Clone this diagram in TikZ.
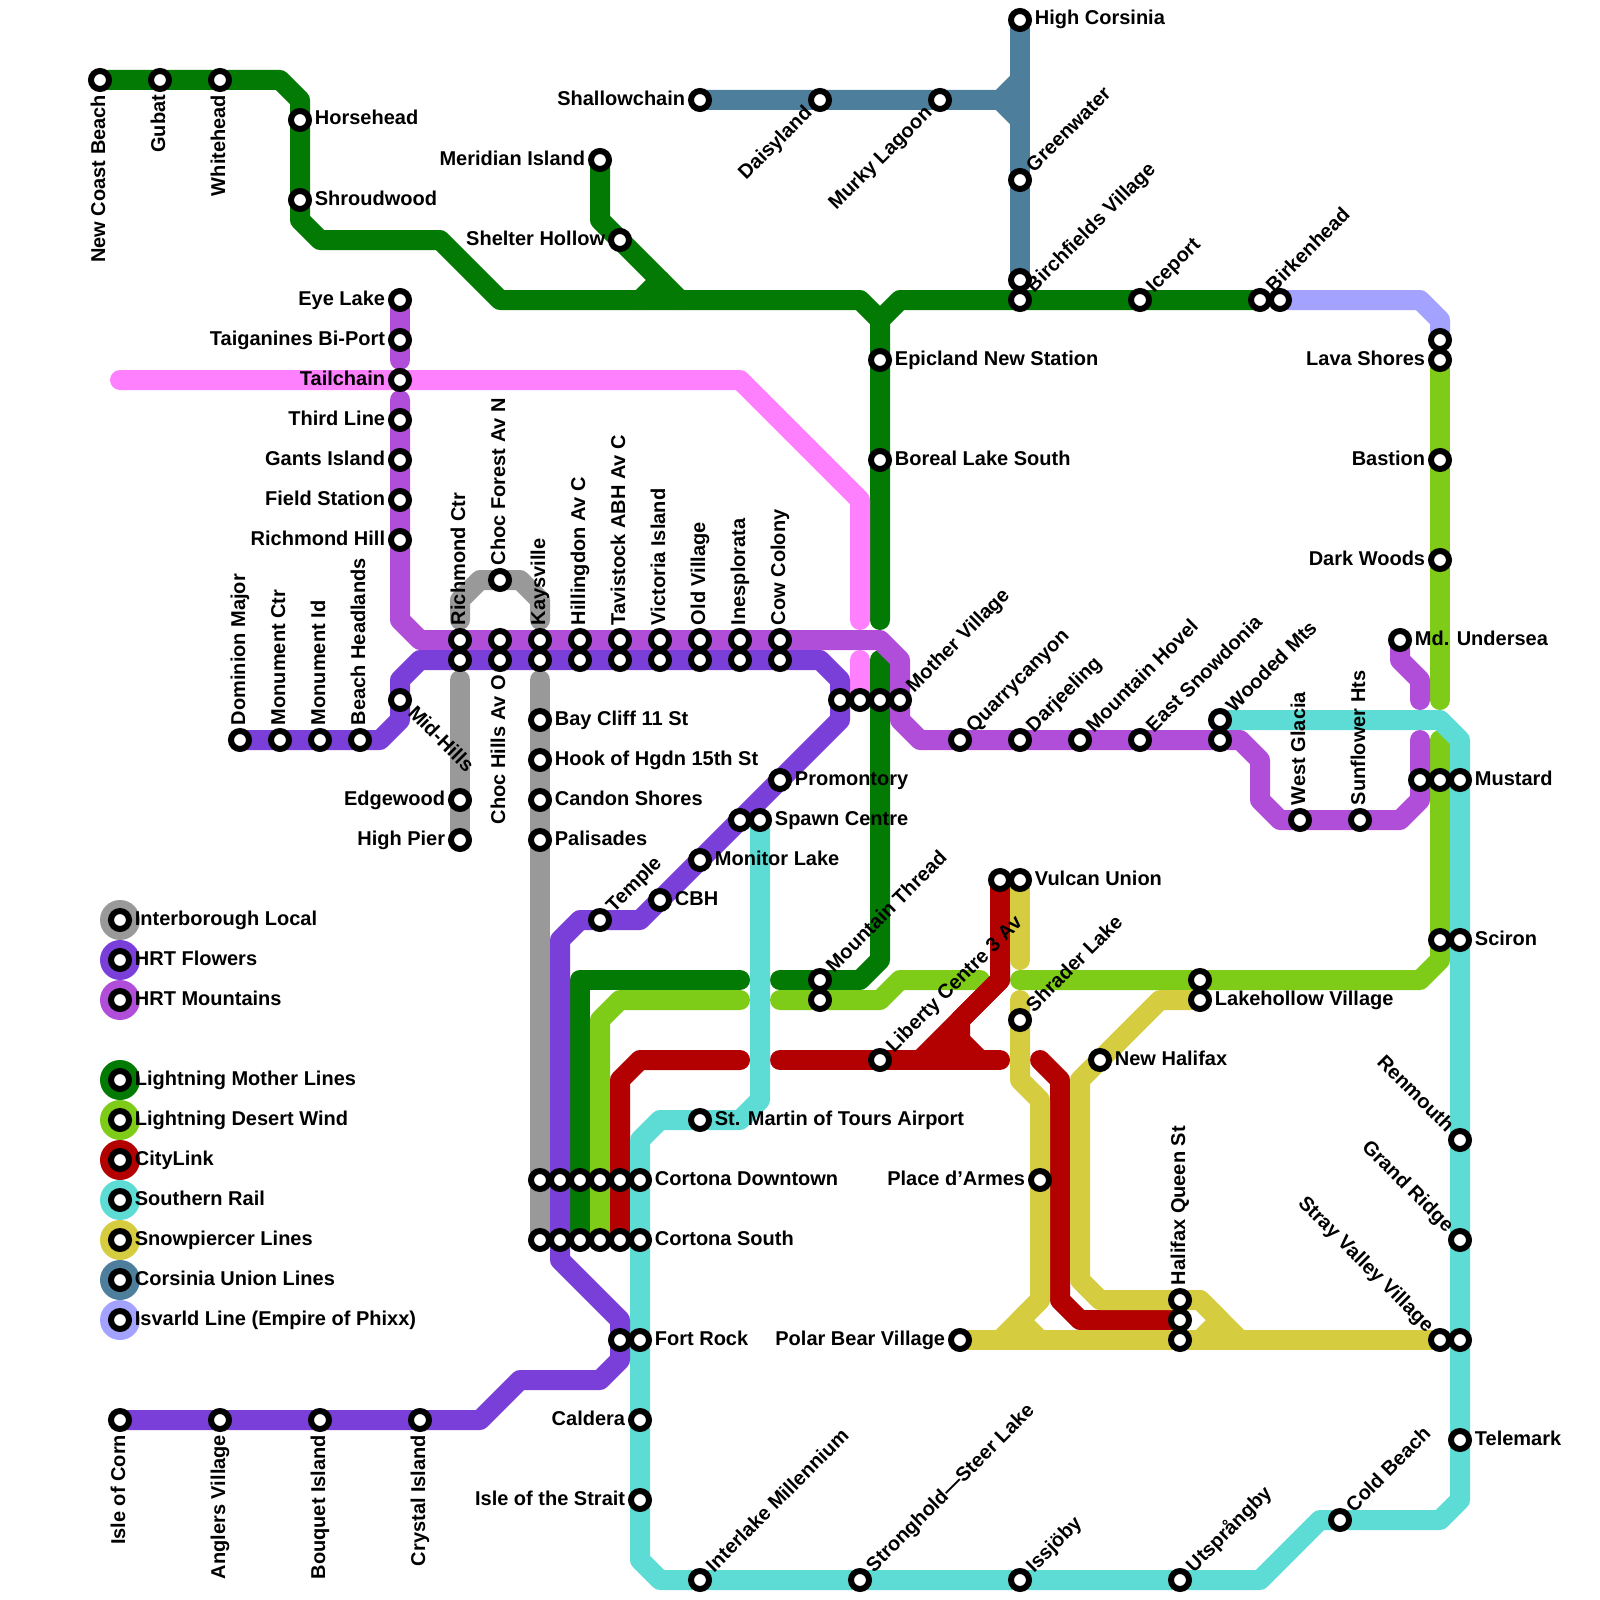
\documentclass[tikz,border=0pt]{standalone}
\usepackage{fontspec}
\setmainfont{Liberation Sans}
\definecolor{cGray}{HTML}{999999}
\definecolor{cFlowers}{HTML}{7B3FD9}
\definecolor{cMountains}{HTML}{B04DD9}
\definecolor{cMother}{HTML}{037A03}
\definecolor{cDesert}{HTML}{7ECC18}
\definecolor{cCity}{HTML}{B30000}
\definecolor{cSouthern}{HTML}{5CDCD4}
\definecolor{cSnow}{HTML}{D6CC40}
\definecolor{cCorsinia}{HTML}{4D7E9C}
\definecolor{cIsvarld}{HTML}{A3A3FF}
\definecolor{cPink}{HTML}{FF80FF}
\pgfdeclarelayer{lines}
\pgfsetlayers{lines,main}
\tikzset{
  stn/.style={circle,draw=black,fill=white,line width=3pt,minimum size=9pt,inner sep=0pt},
  lgd/.style={circle,minimum size=20pt,inner sep=0pt},
  ln/.style={line width=10pt,line cap=round,line join=round},
  lb/.style={font=\bfseries\fontsize{10}{12}\selectfont,inner sep=0pt},
  lbfwd/.style={lb,anchor=base west,xshift=7.25pt,yshift=-2.5pt},
  lbbck/.style={lb,anchor=base east,xshift=-7.25pt,yshift=-2.5pt},
  lbE/.style={lbfwd},
  lbW/.style={lbbck},
  lbN/.style={rotate=90,lbfwd},
  lbS/.style={rotate=90,lbbck},
  lbNE/.style={rotate=45,lbfwd},
  lbSW/.style={rotate=45,lbbck},
  lbSE/.style={rotate=-45,lbfwd},
  lbNW/.style={rotate=-45,lbbck}
}
\begin{document}
\begin{tikzpicture}[x=10pt,y=-10pt]
\useasboundingbox (0,0) rectangle (80,80);
% top left
\node[stn] (newcoast) at (5,4) {}; \node[lbS] (newcoastL) at (newcoast) {New Coast Beach};
\node[stn] (gubat) at (8,4) {}; \node[lbS] (gubatL) at (gubat) {Gubat};
\node[stn] (whitehead) at (11,4) {}; \node[lbS] (whiteheadL) at (whitehead) {Whitehead};
\node[stn] (horsehead) at (15,6) {}; \node[lbE] (horseheadL) at (horsehead) {Horsehead};
\node[stn] (shroudwood) at (15,10) {}; \node[lbE] (shroudwoodL) at (shroudwood) {Shroudwood};
\node[stn] (meridian) at (30,8) {}; \node[lbW] (meridianL) at (meridian) {Meridian Island};
\node[stn] (shelter) at (31,12) {}; \node[lbW] (shelterL) at (shelter) {Shelter Hollow};
% corsinia
\node[stn] (shallow) at (35,5) {}; \node[lbW] (shallowL) at (shallow) {Shallowchain};
\node[stn] (daisy) at (41,5) {}; \node[lbSW] (daisyL) at (daisy) {Daisyland};
\node[stn] (murky) at (47,5) {}; \node[lbSW] (murkyL) at (murky) {Murky Lagoon};
\node[stn] (highcors) at (51,1) {}; \node[lbE] (highcorsL) at (highcors) {High Corsinia};
\node[stn] (greenwater) at (51,9) {}; \node[lbNE] (greenwaterL) at (greenwater) {Greenwater};
\node[stn] (birchN) at (51,14) {};
\node[stn] (birchS) at (51,15) {}; \node[lbNE] (birchL) at (birchS) {Birchfields Village};
\node[stn] (iceport) at (57,15) {}; \node[lbNE] (iceportL) at (iceport) {Iceport};
\node[stn] (birkenE) at (64,15) {};
\node[stn] (birkenW) at (63,15) {}; \node[lbNE] (birkenL) at (birkenW) {Birkenhead};
\node[stn] (epicland) at (44,18) {}; \node[lbE] (epiclandL) at (epicland) {Epicland New Station};
\node[stn] (boreal) at (44,23) {}; \node[lbE] (borealL) at (boreal) {Boreal Lake South};
% east side
\node[stn] (lavaN) at (72,17) {};
\node[stn] (lava) at (72,18) {}; \node[lbW] (lavaL) at (lava) {Lava Shores};
\node[stn] (bastion) at (72,23) {}; \node[lbW] (bastionL) at (bastion) {Bastion};
\node[stn] (darkwoods) at (72,28) {}; \node[lbW] (darkwoodsL) at (darkwoods) {Dark Woods};
\node[stn] (undersea) at (70,32) {}; \node[lbE] (underseaL) at (undersea) {Md. Undersea};
\node[stn] (mustardW) at (71,39) {};
\node[stn] (mustardC) at (72,39) {};
\node[stn] (mustard) at (73,39) {}; \node[lbE] (mustardL) at (mustard) {Mustard};
\node[stn] (scironW) at (72,47) {};
\node[stn] (sciron) at (73,47) {}; \node[lbE] (scironL) at (sciron) {Sciron};
\node[stn] (renmouth) at (73,57) {}; \node[lbNW] (renmouthL) at (renmouth) {Renmouth};
\node[stn] (grandridge) at (73,62) {}; \node[lbNW] (grandridgeL) at (grandridge) {Grand Ridge};
\node[stn] (strayE) at (73,67) {};
\node[stn] (stray) at (72,67) {}; \node[lbNW] (strayL) at (stray) {Stray Valley Village};
\node[stn] (telemark) at (73,72) {}; \node[lbE] (telemarkL) at (telemark) {Telemark};
\node[stn] (coldbeach) at (67,76) {}; \node[lbNE] (coldbeachL) at (coldbeach) {Cold Beach};
% south edge
\node[stn] (utspr) at (59,79) {}; \node[lbNE] (utsprL) at (utspr) {Utsprångby};
\node[stn] (issjo) at (51,79) {}; \node[lbNE] (issjoL) at (issjo) {Issjöby};
\node[stn] (stronghold) at (43,79) {}; \node[lbNE] (strongholdL) at (stronghold) {Stronghold—Steer Lake};
\node[stn] (interlake) at (35,79) {}; \node[lbNE] (interlakeL) at (interlake) {Interlake Millennium};
\node[stn] (strait) at (32,75) {}; \node[lbW] (straitL) at (strait) {Isle of the Strait};
\node[stn] (caldera) at (32,71) {}; \node[lbW] (calderaL) at (caldera) {Caldera};
\node[stn] (fortW) at (31,67) {};
\node[stn] (fort) at (32,67) {}; \node[lbE] (fortL) at (fort) {Fort Rock};
\node[stn] (corn) at (6,71) {}; \node[lbS] (cornL) at (corn) {Isle of Corn};
\node[stn] (anglers) at (11,71) {}; \node[lbS] (anglersL) at (anglers) {Anglers Village};
\node[stn] (bouquet) at (16,71) {}; \node[lbS] (bouquetL) at (bouquet) {Bouquet Island};
\node[stn] (crystal) at (21,71) {}; \node[lbS] (crystalL) at (crystal) {Crystal Island};
% cortona rows
\node[stn] (downA) at (27,59) {};
\node[stn] (downB) at (28,59) {};
\node[stn] (downC) at (29,59) {};
\node[stn] (downD) at (30,59) {};
\node[stn] (downE) at (31,59) {};
\node[stn] (down) at (32,59) {}; \node[lbE] (downL) at (down) {Cortona Downtown};
\node[stn] (southA) at (27,62) {};
\node[stn] (southB) at (28,62) {};
\node[stn] (southC) at (29,62) {};
\node[stn] (southD) at (30,62) {};
\node[stn] (southE) at (31,62) {};
\node[stn] (south) at (32,62) {}; \node[lbE] (southL) at (south) {Cortona South};
\node[stn] (martin) at (35,56) {}; \node[lbE] (martinL) at (martin) {St. Martin of Tours Airport};
% hrt west
\node[stn] (eyelake) at (20,15) {}; \node[lbW] (eyelakeL) at (eyelake) {Eye Lake};
\node[stn] (taiga) at (20,17) {}; \node[lbW] (taigaL) at (taiga) {Taiganines Bi-Port};
\node[stn] (tailchain) at (20,19) {}; \node[lbW] (tailchainL) at (tailchain) {Tailchain};
\node[stn] (thirdline) at (20,21) {}; \node[lbW] (thirdlineL) at (thirdline) {Third Line};
\node[stn] (gants) at (20,23) {}; \node[lbW] (gantsL) at (gants) {Gants Island};
\node[stn] (field) at (20,25) {}; \node[lbW] (fieldL) at (field) {Field Station};
\node[stn] (richhill) at (20,27) {}; \node[lbW] (richhillL) at (richhill) {Richmond Hill};
\node[stn] (midhills) at (20,35) {}; \node[lbSE] (midhillsL) at (midhills) {Mid-Hills};
\node[stn] (dominion) at (12,37) {}; \node[lbN] (dominionL) at (dominion) {Dominion Major};
\node[stn] (monctr) at (14,37) {}; \node[lbN] (monctrL) at (monctr) {Monument Ctr};
\node[stn] (monid) at (16,37) {}; \node[lbN] (monidL) at (monid) {Monument Id};
\node[stn] (beach) at (18,37) {}; \node[lbN] (beachL) at (beach) {Beach Headlands};
\node[stn] (edgewood) at (23,40) {}; \node[lbW] (edgewoodL) at (edgewood) {Edgewood};
\node[stn] (highpier) at (23,42) {}; \node[lbW] (highpierL) at (highpier) {High Pier};
% double row
\node[stn] (richctrS) at (23,33) {};
\node[stn] (richctr) at (23,32) {}; \node[lbN] (richctrL) at (richctr) {Richmond Ctr};
\node[stn] (chocN) at (25,29) {}; \node[lbN] (chocNL) at (chocN) {Choc Forest Av N};
\node[stn] (chocM) at (25,32) {};
\node[stn] (chocO) at (25,33) {}; \node[lbS] (chocOL) at (chocO) {Choc Hills Av O};
\node[stn] (kaysS) at (27,33) {};
\node[stn] (kays) at (27,32) {}; \node[lbN] (kaysL) at (kays) {Kaysville};
\node[stn] (hillS) at (29,33) {};
\node[stn] (hill) at (29,32) {}; \node[lbN] (hillL) at (hill) {Hillingdon Av C};
\node[stn] (tavS) at (31,33) {};
\node[stn] (tav) at (31,32) {}; \node[lbN] (tavL) at (tav) {Tavistock ABH Av C};
\node[stn] (vicS) at (33,33) {};
\node[stn] (vic) at (33,32) {}; \node[lbN] (vicL) at (vic) {Victoria Island};
\node[stn] (oldS) at (35,33) {};
\node[stn] (old) at (35,32) {}; \node[lbN] (oldL) at (old) {Old Village};
\node[stn] (inesS) at (37,33) {};
\node[stn] (ines) at (37,32) {}; \node[lbN] (inesL) at (ines) {Inesplorata};
\node[stn] (cowS) at (39,33) {};
\node[stn] (cow) at (39,32) {}; \node[lbN] (cowL) at (cow) {Cow Colony};
\node[stn] (bay) at (27,36) {}; \node[lbE] (bayL) at (bay) {Bay Cliff 11 St};
\node[stn] (hook) at (27,38) {}; \node[lbE] (hookL) at (hook) {Hook of Hgdn 15th St};
\node[stn] (candon) at (27,40) {}; \node[lbE] (candonL) at (candon) {Candon Shores};
\node[stn] (palisades) at (27,42) {}; \node[lbE] (palisadesL) at (palisades) {Palisades};
% centre
\node[stn] (motherA) at (42,35) {};
\node[stn] (motherB) at (43,35) {};
\node[stn] (motherC) at (44,35) {};
\node[stn] (mothervil) at (45,35) {}; \node[lbNE] (mothervilL) at (mothervil) {Mother Village};
\node[stn] (promontory) at (39,39) {}; \node[lbE] (promontoryL) at (promontory) {Promontory};
\node[stn] (spawnW) at (37,41) {};
\node[stn] (spawn) at (38,41) {}; \node[lbE] (spawnL) at (spawn) {Spawn Centre};
\node[stn] (monitor) at (35,43) {}; \node[lbE] (monitorL) at (monitor) {Monitor Lake};
\node[stn] (cbh) at (33,45) {}; \node[lbE] (cbhL) at (cbh) {CBH};
\node[stn] (temple) at (30,46) {}; \node[lbNE] (templeL) at (temple) {Temple};
\node[stn] (threadS) at (41,50) {};
\node[stn] (thread) at (41,49) {}; \node[lbNE] (threadL) at (thread) {Mountain Thread};
\node[stn] (liberty) at (44,53) {}; \node[lbNE] (libertyL) at (liberty) {Liberty Centre 3 Av};
\node[stn] (vulcanW) at (50,44) {};
\node[stn] (vulcan) at (51,44) {}; \node[lbE] (vulcanL) at (vulcan) {Vulcan Union};
\node[stn] (shrader) at (51,51) {}; \node[lbNE] (shraderL) at (shrader) {Shrader Lake};
\node[stn] (lakeN) at (60,49) {};
\node[stn] (lake) at (60,50) {}; \node[lbE] (lakeL) at (lake) {Lakehollow Village};
\node[stn] (newhalifax) at (55,53) {}; \node[lbE] (newhalifaxL) at (newhalifax) {New Halifax};
\node[stn] (armes) at (52,59) {}; \node[lbW] (armesL) at (armes) {Place d’Armes};
\node[stn] (polar) at (48,67) {}; \node[lbW] (polarL) at (polar) {Polar Bear Village};
\node[stn] (halifaxC) at (59,66) {};
\node[stn] (halifaxS) at (59,67) {};
\node[stn] (halifax) at (59,65) {}; \node[lbN] (halifaxL) at (halifax) {Halifax Queen St};
% mountains east
\node[stn] (quarry) at (48,37) {}; \node[lbNE] (quarryL) at (quarry) {Quarrycanyon};
\node[stn] (darjeeling) at (51,37) {}; \node[lbNE] (darjeelingL) at (darjeeling) {Darjeeling};
\node[stn] (hovel) at (54,37) {}; \node[lbNE] (hovelL) at (hovel) {Mountain Hovel};
\node[stn] (snowdonia) at (57,37) {}; \node[lbNE] (snowdoniaL) at (snowdonia) {East Snowdonia};
\node[stn] (woodedS) at (61,37) {};
\node[stn] (wooded) at (61,36) {}; \node[lbNE] (woodedL) at (wooded) {Wooded Mts};
\node[stn] (glacia) at (65,41) {}; \node[lbN] (glaciaL) at (glacia) {West Glacia};
\node[stn] (sunflower) at (68,41) {}; \node[lbN] (sunflowerL) at (sunflower) {Sunflower Hts};
% legend
\node[lgd,fill=cGray] (keyA) at (6,46) {}; \node[stn] (keyAs) at (keyA) {}; \node[lbE] (keyAL) at (keyA) {Interborough Local};
\node[lgd,fill=cFlowers] (keyB) at (6,48) {}; \node[stn] (keyBs) at (keyB) {}; \node[lbE] (keyBL) at (keyB) {HRT Flowers};
\node[lgd,fill=cMountains] (keyC) at (6,50) {}; \node[stn] (keyCs) at (keyC) {}; \node[lbE] (keyCL) at (keyC) {HRT Mountains};
\node[lgd,fill=cMother] (keyD) at (6,54) {}; \node[stn] (keyDs) at (keyD) {}; \node[lbE] (keyDL) at (keyD) {Lightning Mother Lines};
\node[lgd,fill=cDesert] (keyE) at (6,56) {}; \node[stn] (keyEs) at (keyE) {}; \node[lbE] (keyEL) at (keyE) {Lightning Desert Wind};
\node[lgd,fill=cCity] (keyF) at (6,58) {}; \node[stn] (keyFs) at (keyF) {}; \node[lbE] (keyFL) at (keyF) {CityLink};
\node[lgd,fill=cSouthern] (keyG) at (6,60) {}; \node[stn] (keyGs) at (keyG) {}; \node[lbE] (keyGL) at (keyG) {Southern Rail};
\node[lgd,fill=cSnow] (keyH) at (6,62) {}; \node[stn] (keyHs) at (keyH) {}; \node[lbE] (keyHL) at (keyH) {Snowpiercer Lines};
\node[lgd,fill=cCorsinia] (keyI) at (6,64) {}; \node[stn] (keyIs) at (keyI) {}; \node[lbE] (keyIL) at (keyI) {Corsinia Union Lines};
\node[lgd,fill=cIsvarld] (keyJ) at (6,66) {}; \node[stn] (keyJs) at (keyJ) {}; \node[lbE] (keyJL) at (keyJ) {Isvarld Line (Empire of Phixx)};
% free line ends
\coordinate (motherEndN) at (44,31);
\coordinate (motherEndS) at (44,33);
\coordinate (motherEndE) at (39,49);
\coordinate (motherEndW) at (37,49);
\coordinate (motherJoin) at (32,15);
\coordinate (desertEndN) at (72,35);
\coordinate (desertEndS) at (72,37);
\coordinate (desertEndA) at (51,49);
\coordinate (desertEndB) at (49,49);
\coordinate (desertEndC) at (39,50);
\coordinate (desertEndD) at (37,50);
\coordinate (cityEndA) at (37,53);
\coordinate (cityEndB) at (39,53);
\coordinate (cityEndC) at (50,53);
\coordinate (cityEndD) at (52,53);
\coordinate (snowEndA) at (51,48);
\coordinate (snowEndB) at (51,50);
\coordinate (pinkEndW) at (6,19);
\coordinate (pinkEndN) at (43,31);
\coordinate (pinkEndS) at (43,33);
\coordinate (mtnEndA) at (20,18);
\coordinate (mtnEndB) at (20,20);
\coordinate (mtnEndC) at (71,37);
\coordinate (mtnEndD) at (71,35);
\coordinate (grayEndA) at (23,31);
\coordinate (grayEndB) at (27,31);
\coordinate (grayEndC) at (23,34);
\coordinate (grayEndD) at (27,34);
\begin{pgfonlayer}{lines}
% lightning mother
\draw[ln,cMother] (newcoast.center) -- (14,4) -- (15,5) -- (15,11) -- (16,12) -- (22,12) -- (25,15) -- (43,15) -- (44,16) -- (motherEndN);
\draw[ln,cMother] (44,16) -- (45,15) -- (birkenW.center);
\draw[ln,cMother] (meridian.center) -- (30,11) -- (34,15);
\draw[ln,cMother] (motherJoin) -- (33,14);
\draw[ln,cMother] (motherEndS) -- (44,48) -- (43,49) -- (motherEndE);
\draw[ln,cMother] (motherEndW) -- (29,49) -- (southC.center);
% desert wind
\draw[ln,cDesert] (lava.center) -- (desertEndN);
\draw[ln,cDesert] (desertEndS) -- (72,48) -- (71,49) -- (desertEndA);
\draw[ln,cDesert] (desertEndB) -- (45,49) -- (44,50) -- (desertEndC);
\draw[ln,cDesert] (desertEndD) -- (31,50) -- (30,51) -- (southD.center);
% citylink
\draw[ln,cCity] (cityEndA) -- (32,53) -- (31,54) -- (southE.center);
\draw[ln,cCity] (cityEndB) -- (cityEndC);
\draw[ln,cCity] (46,53) -- (50,49) -- (vulcanW.center);
\draw[ln,cCity] (50,49) -- (48,51) -- (48,52) -- (49,53);
\draw[ln,cCity] (48,52) -- (47,53);
\draw[ln,cCity] (cityEndD) -- (53,54) -- (53,65) -- (54,66) -- (halifaxC.center);
% interborough
\draw[ln,cGray] (grayEndA) -- (23,30) -- (24,29) -- (26,29) -- (27,30) -- (grayEndB);
\draw[ln,cGray] (grayEndC) -- (highpier.center);
\draw[ln,cGray] (grayEndD) -- (southA.center);
% southern rail
\draw[ln,cSouthern] (spawn.center) -- (38,55) -- (37,56) -- (33,56) -- (32,57) -- (32,78) -- (33,79) -- (63,79) -- (66,76) -- (72,76) -- (73,75) -- (73,37) -- (72,36) -- (wooded.center);
% snowpiercer
\draw[ln,cSnow] (vulcan.center) -- (snowEndA);
\draw[ln,cSnow] (snowEndB) -- (51,54) -- (52,55) -- (52,65) -- (50,67);
\draw[ln,cSnow] (52,65) -- (51,66) -- (52,67);
\draw[ln,cSnow] (polar.center) -- (stray.center);
\draw[ln,cSnow] (lake.center) -- (58,50) -- (54,54) -- (54,64) -- (55,65) -- (60,65) -- (62,67);
\draw[ln,cSnow] (60,65) -- (61,66) -- (60,67);
% tailchain pink
\draw[ln,cPink] (pinkEndW) -- (37,19) -- (43,25) -- (pinkEndN);
\draw[ln,cPink] (pinkEndS) -- (motherB.center);
% hrt mountains
\draw[ln,cMountains] (eyelake.center) -- (mtnEndA);
\draw[ln,cMountains] (mtnEndB) -- (20,31) -- (21,32) -- (44,32) -- (45,33) -- (45,36) -- (46,37) -- (62,37) -- (63,38) -- (63,40) -- (64,41) -- (70,41) -- (71,40) -- (mtnEndC);
\draw[ln,cMountains] (undersea.center) -- (70,33) -- (71,34) -- (mtnEndD);
% hrt flowers
\draw[ln,cFlowers] (dominion.center) -- (19,37) -- (20,36) -- (20,34) -- (21,33) -- (41,33) -- (42,34) -- (42,36) -- (32,46) -- (29,46) -- (28,47) -- (28,63) -- (31,66) -- (31,68) -- (30,69) -- (26,69) -- (24,71) -- (corn.center);
% corsinia
\draw[ln,cCorsinia] (shallow.center) -- (50,5) -- (51,4);
\draw[ln,cCorsinia] (50,5) -- (51,6);
\draw[ln,cCorsinia] (highcors.center) -- (birchN.center);
% isvarld
\draw[ln,cIsvarld] (birkenE.center) -- (71,15) -- (72,16) -- (lavaN.center);
\end{pgfonlayer}
\end{tikzpicture}
\end{document}
